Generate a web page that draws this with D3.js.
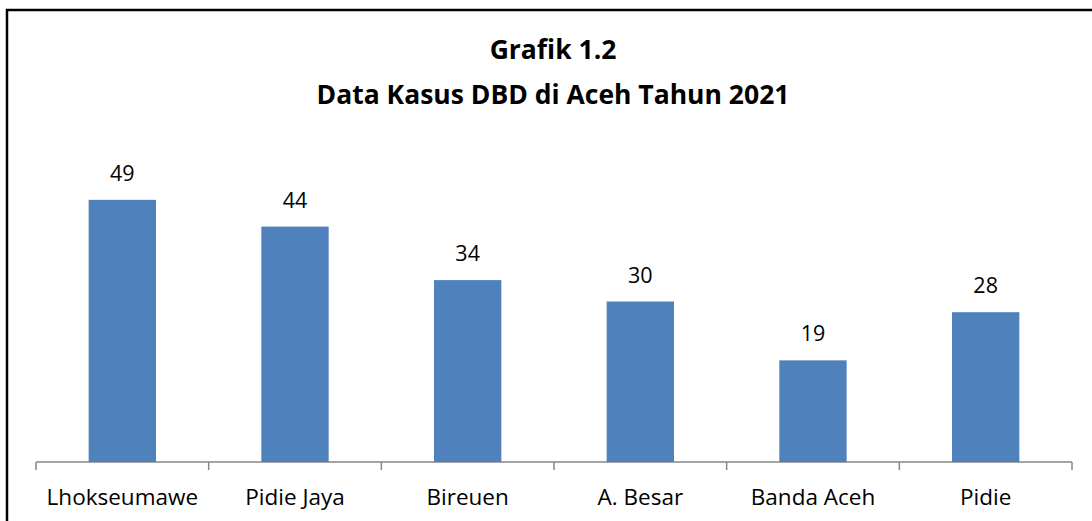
<!DOCTYPE html>
<html>
<head>
<meta charset="utf-8">
<title>Grafik 1.2 - Data Kasus DBD di Aceh Tahun 2021</title>
<style>
  body { margin: 0; padding: 0; background: #ffffff; }
  svg { display: block; font-family: 'Open Sans', 'Noto Sans', sans-serif; }
  .bar { fill: #4F81BD; }
  .axis path, .axis line { stroke: #868686; stroke-width: 1.5; }
  .value { fill: #000; font-size: 21.5px; text-anchor: middle; }
  .cat { fill: #000; font-size: 22.5px; text-anchor: middle; }
  .title { fill: #000; font-size: 26.5px; font-weight: bold; text-anchor: middle; }
</style>
</head>
<body>
<div id="chart"></div>
<script src="https://d3js.org/d3.v7.min.js"></script>
<script>
// chart data
var categories = ["Lhokseumawe", "Pidie Jaya", "Bireuen", "A. Besar", "Banda Aceh", "Pidie"]
var cases = [49, 44, 34, 30, 19, 28]
var titleLines = ["Grafik 1.2", "Data Kasus DBD di Aceh Tahun 2021"]

var width = 1092,
    height = 521

var svg = d3.select("#chart").append("svg")
  .attr("width", width)
  .attr("height", height)

// outer frame (top and left edges visible in the original)
svg.append("path")
  .attr("d", "M7,521 V10 H1092")
  .attr("fill", "none")
  .attr("stroke", "#000")
  .attr("stroke-width", 2.5)

// title
svg.selectAll(".title")
  .data(titleLines)
  .enter().append("text")
  .attr("class", "title")
  .attr("x", 553)
  .attr("y", function (d, i) { return 59 + i * 45 })
  .text(function (d) { return d })

var x = d3.scaleBand()
  .domain(categories)
  .range([36, 1072])
  .paddingInner(0.61)
  .paddingOuter(0.305)

var y = d3.scaleLinear()
  .domain([0, 60])
  .range([462, 141])

// x axis with ticks between categories
var band = d3.scaleBand().domain(categories).range([36, 1072])
var axis = svg.append("g").attr("class", "axis")
axis.append("path")
  .attr("d", "M36,462 H1072")
axis.selectAll("line")
  .data(d3.range(categories.length + 1))
  .enter().append("line")
  .attr("x1", function (i) { return 36 + i * band.step() })
  .attr("x2", function (i) { return 36 + i * band.step() })
  .attr("y1", 462)
  .attr("y2", 470)

// bars
svg.selectAll(".bar")
  .data(cases)
  .enter().append("rect")
  .attr("class", "bar")
  .attr("x", function (d, i) { return x(categories[i]) })
  .attr("y", function (d) { return y(d) })
  .attr("width", x.bandwidth())
  .attr("height", function (d) { return y(0) - y(d) })

// value labels
svg.selectAll(".value")
  .data(cases)
  .enter().append("text")
  .attr("class", "value")
  .attr("x", function (d, i) { return x(categories[i]) + x.bandwidth() / 2 })
  .attr("y", function (d) { return y(d) - 19 })
  .text(function (d) { return d })

// category labels
svg.selectAll(".cat")
  .data(categories)
  .enter().append("text")
  .attr("class", "cat")
  .attr("x", function (d) { return band(d) + band.bandwidth() / 2 })
  .attr("y", 505)
  .text(function (d) { return d })
</script>
</body>
</html>
